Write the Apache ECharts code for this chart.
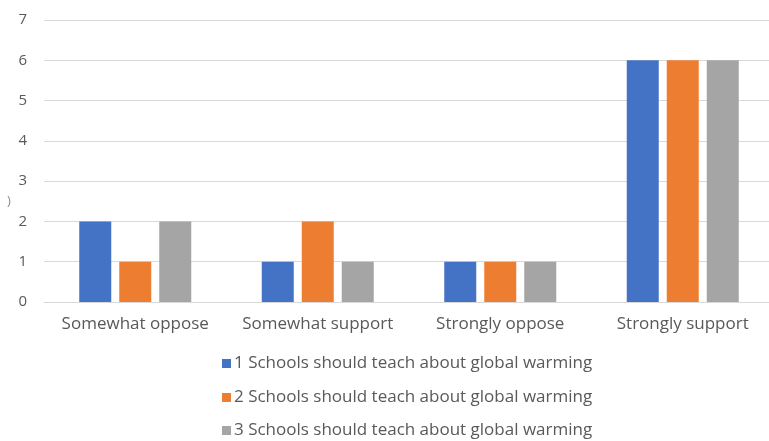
<!DOCTYPE html>
<html>
<head>
<meta charset="utf-8">
<style>
  html, body { margin: 0; padding: 0; background: #ffffff; overflow: hidden; width: 769px; height: 441px; }
  #chart { width: 775px; height: 441px; }
</style>
<script src="https://cdn.jsdelivr.net/npm/echarts@6/dist/echarts.min.js"></script>
</head>
<body>
<div id="chart"></div>
<script>
// Survey responses by opinion category
const categories = ['Somewhat oppose', 'Somewhat support', 'Strongly oppose', 'Strongly support'];
const seriesNames = [
  '1 Schools should teach about global warming',
  '2 Schools should teach about global warming',
  '3 Schools should teach about global warming'
];
const series1 = [2, 1, 1, 6];
const series2 = [1, 2, 1, 6];
const series3 = [2, 1, 1, 6];
const yTicks = [0, 1, 2, 3, 4, 5, 6, 7];

const colors = ['#4472C4', '#ED7D31', '#A5A5A5'];
const fontFamily = '"Open Sans", "Noto Sans", sans-serif';

const chart = echarts.init(document.getElementById('chart'), null, { renderer: 'canvas' });

const values = [series1, series2, series3];

// one legend block per series so the entries stack at fixed rows
const legendTops = [350, 384, 417];
const legends = seriesNames.map((name, i) => ({
  orient: 'vertical',
  left: 217,
  top: legendTops[i],
  itemWidth: 9,
  itemHeight: 9,
  itemGap: 0,
  icon: 'rect',
  textStyle: { color: '#595959', fontFamily: fontFamily, fontSize: 17, padding: [0, 0, 0, -2] },
  data: [name]
}));

chart.setOption({
  animation: false,
  color: colors,
  grid: { left: 44, top: 20, right: 1, height: 282, containLabel: false },
  xAxis: {
    type: 'category',
    data: categories,
    axisLine: { show: true, lineStyle: { color: '#D9D9D9', width: 1 } },
    axisTick: { show: false },
    axisLabel: { color: '#595959', fontFamily: fontFamily, fontSize: 17, margin: 14, interval: 0 }
  },
  yAxis: {
    type: 'value',
    min: yTicks[0],
    max: yTicks[yTicks.length - 1],
    interval: 1,
    axisLine: { show: false },
    axisTick: { show: false },
    axisLabel: { color: '#595959', fontFamily: fontFamily, fontSize: 15, margin: 17 },
    splitLine: { lineStyle: { color: '#D9D9D9', width: 1 } }
  },
  legend: legends,
  graphic: [{
    type: 'text',
    left: 7,
    top: 195,
    style: { text: ')', fill: '#8c8c8c', font: '13px ' + fontFamily }
  }],
  series: seriesNames.map((name, i) => ({
    name: name,
    type: 'bar',
    data: values[i],
    barWidth: 32,
    barGap: '25%',
    itemStyle: { color: colors[i] }
  }))
});
</script>
</body>
</html>
